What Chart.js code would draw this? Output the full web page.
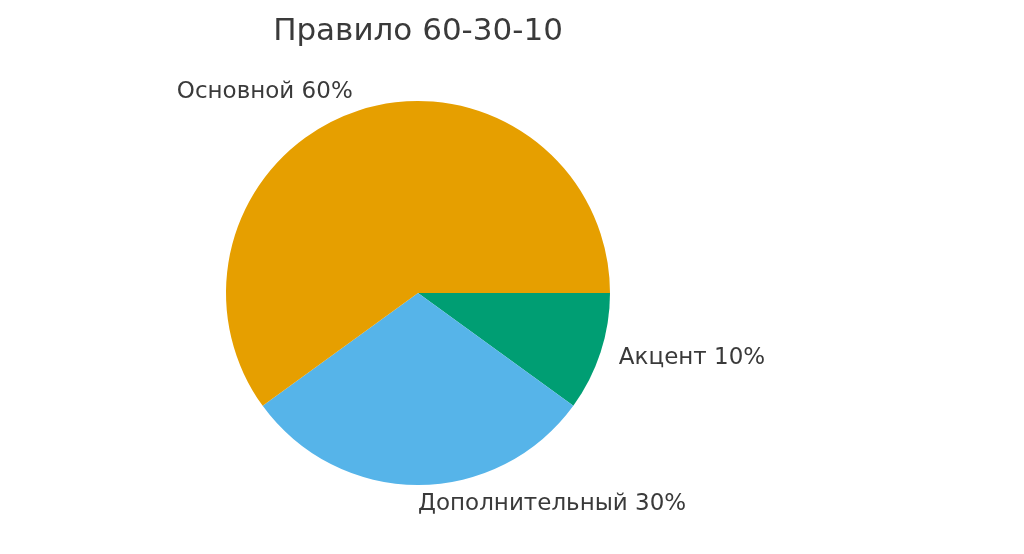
<!DOCTYPE html>
<html>
<head>
<meta charset="utf-8">
<script src="https://cdn.jsdelivr.net/npm/chart.js@4/dist/chart.umd.min.js"></script>
<style>
html,body{margin:0;padding:0;background:#fff;}
#wrap{width:1024px;height:554px;}
</style>
</head>
<body>
<div id="wrap"><canvas id="c" width="1024" height="554"></canvas></div>
<script>
// Data (matplotlib counter-clockwise order from 3 o'clock)
const categories = ["Основной", "Дополнительный", "Акцент"];
const shares = [60, 30, 10];
const sliceColors = ["#E69F00", "#56B4E9", "#009E73"];
const chartTitle = "Правило 60-30-10";

// Chart.js draws clockwise; reverse to mimic counter-clockwise layout
const labelsCW = categories.slice().reverse();
const valuesCW = shares.slice().reverse();
const colorsCW = sliceColors.slice().reverse();

const textColor = "#3a3a3a";
const font = "DejaVu Sans";

const labelPlugin = {
  id: "mplLabels",
  afterDraw(chart) {
    const ctx = chart.ctx;
    const meta = chart.getDatasetMeta(0);
    ctx.save();
    ctx.fillStyle = textColor;
    ctx.font = "23px '" + font + "'";
    ctx.textBaseline = "middle";
    meta.data.forEach((arc, i) => {
      const p = arc.getProps(["x","y","startAngle","endAngle","outerRadius"], true);
      const mid = (p.startAngle + p.endAngle) / 2;
      const r = p.outerRadius * 1.1;
      const x = p.x + r * Math.cos(mid);
      const y = p.y + r * Math.sin(mid);
      const c = Math.cos(mid);
      ctx.textAlign = c < -1e-6 ? "right" : "left";
      ctx.fillText(labelsCW[i] + " " + valuesCW[i] + "%", x, y);
    });
    // title
    ctx.font = "31px '" + font + "'";
    ctx.textAlign = "center";
    ctx.fillText(chartTitle, meta.data[0].x, 32);
    ctx.restore();
  }
};

new Chart(document.getElementById("c"), {
  type: "pie",
  data: {
    labels: labelsCW,
    datasets: [{
      data: valuesCW,
      backgroundColor: colorsCW,
      borderWidth: 0
    }]
  },
  options: {
    responsive: false,
    animation: false,
    rotation: 90,
    layout: { padding: { left: 226, right: 414, top: 101, bottom: 69 } },
    plugins: { legend: { display: false }, tooltip: { enabled: false }, title: { display: false } }
  },
  plugins: [labelPlugin]
});
</script>
</body>
</html>
